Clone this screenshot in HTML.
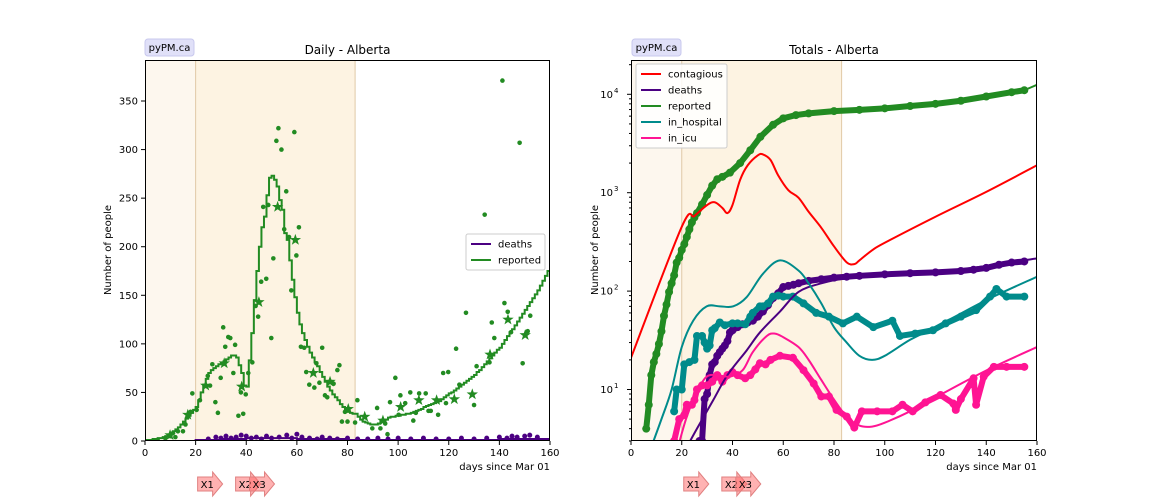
<!DOCTYPE html>
<html><head><meta charset="utf-8">
<style>
html,body{margin:0;padding:0;background:#fff;}
svg{display:block;font-family:"DejaVu Sans","Liberation Sans",sans-serif;}
</style></head>
<body>
<svg id="chart" width="1152" height="504" viewBox="0 0 1152 504" xmlns="http://www.w3.org/2000/svg"></svg>
<script>
// ---------- data ----------
const dailyReportedLine = [1,1,1,2,2,3,3,4,5,6,8,10,12,14,17,20,23,26,29,32,35,42,50,58,64,70,73,75,77,79,80,82,84,86,88,88,86,78,70,57,56,83,111,145,175,200,220,231,253,271,273,269,262,248,238,214,207,186,166,148,132,120,111,104,97,91,86,81,77,71,66,61,56,52,48,45,42,38,35,33,30,29,28,28,25,22,20,19,18,17,17,17,18,20,21,22,24,25,25,26,26,27,27,28,28,29,30,31,32,33,35,36,37,38,39,40,41,43,45,47,49,50,52,54,56,58,60,62,64,66,68,71,73,76,79,82,85,88,91,94,96,100,104,108,112,115,119,123,127,131,135,139,143,147,151,155,160,165,170,175,180];
const dailyDotDays = [5,8,10,11,12,13,15,16,17,18,18.7,20.4,21.7,23.7,24.8,25.7,26.6,27.8,28.8,29.9,30.9,31.7,32.9,33.7,34.9,35.6,36.9,37.9,38.8,39.8,40.8,42.4,43.7,44.7,45.9,46.7,47.9,48.7,49.9,50.7,51.9,52.7,53.9,55,55.8,56.9,57.8,59,59.8,60.8,61.6,62.9,63.7,64.9,66.9,67.7,68.9,70,71.1,72,74.5,76,76.8,77.8,79,80,83,83.9,89.8,91.7,93,94.9,95.8,96.8,98.9,100.2,100.9,102.8,104.8,106,107,108.3,110.9,112,112.9,115.8,117.8,118.9,119.8,122.9,124.2,126.8,130,131,134.2,136.1,137,138,141.2,142,143.3,144.6,148,149.2,151.2,152.2];
const dailyDotVals = [1,3,5,8,4,10,10,17,25,30,49,32,42,57,67,57,79,40,29,65,117,97,107,106,70,99,26,50,28,48,70,81,139,128,164,241,167,243,106,188,309,322,300,218,257,210,155,318,191,220,97,96,71,58,55,80,60,96,47,45,59,73,78,20,30,20,19,42,13,34,13,18,7,40,65,27,47,39,50,21,29,49,49,31,31,27,70,39,71,95,58,132,37,77,233,81,122,106,371,142,133,112,307,80,113,129];
const dailyStarDays = [9.9,16.9,24,31.3,38.2,45,52.4,59.4,66.5,73.1,80.3,86.8,94,101,108.2,115.2,122.2,129.3,136.3,143.4,150.2];
const dailyStarVals = [6,27,57,80,56,143,241,207,70,61,33,25,21,35,42,42,43,48,89,125,109];
const dailyDeathLine = [0,0,1,2,3,3,2,2,1,1,1,1,1,1,2,2,3];
const deathDotDays = [25,28,30,32,34,36,38,40,42,44,46,48,50,53,56,58,60,62,65,68,70,73,76,80,84,88,92,96,100,105,110,115,120,125,130,135,140,143,145,147,150,152,155];
const deathDotVals = [2,4,3,5,3,4,6,5,3,4,2,5,3,4,6,3,7,4,3,2,4,3,2,3,2,2,3,2,3,2,3,2,2,3,2,3,4,3,5,4,5,6,4];

const lineDays = [0,20,25,30,33,36,38,40,43,46,50,52,55,58,62,66,70,75,80,85,88,90,95,100,120,140,160];
const contagiousVals = [21,450,580,750,800,700,620,750,1350,1900,2400,2450,2150,1500,1060,890,640,440,285,196,188,205,260,310,570,1020,1900];
const deathLineDays = [20,22,26,32.4,38,45.6,50.8,58.7,66,75,85,100,120,140,160];
const deathLineVals = [2.1,2.6,4,7.8,14,25,38,62,98,120,135,145,155,180,215];
const hospLineDays = [8,12,16,20,24.5,29.8,35,40.3,45.6,52,58.7,66,70,75,80,85,90,95,100,110,120,140,160];
const hospLineVals = [2.6,5,10,27,50,70,70,70,87,150,205,162,120,75,43,30,22,20,22,32,43,81,140];
const icuLineDays = [17,19,22,26,29.8,34,39,44,48,53.5,56.7,60,66,70,75,80,85,90,95,100,110,120,140,160];
const icuLineVals = [2,2.9,5.3,9.5,13.5,14,13.5,15.7,24,35,37,34,27,20,12.5,7.9,5.3,4.3,4.2,4.6,6,8.3,15.6,27];

const repDays = [6,7,8,9,10,11,12,13,14,15,16,17,18,19,20,21,22,23,24,25,26,28,30,32,34,36,39,43,47,51,56,60,65,70,80,90,100,110,120,130,140,150,155];
const repVals = [4,7,14,19,23,29,39,56,73,98,120,145,195,218,262,300,355,425,500,560,620,760,950,1180,1370,1450,1600,2000,2700,3700,4900,5700,6150,6400,6750,6950,7200,7600,8000,8600,9500,10500,11000];
const deathDays = [27,28,29,30,31,32,33,34,35,36,37,38,39,40,42,44,46,48,50,52,54,56,58,60,62,64,66,70,75,80,85,90,100,110,120,130,135,140,145,150,155];
const deathVals = [3,3,8,9,14,18,19,22,24,26,28,31,38,40,43,46,48,50,55,62,72,85,95,110,113,116,120,127,132,137,140,143,148,152,155,160,165,172,185,195,200];
const hospDays = [17,18,20,21,23,25,26,28,29,30,31,32,33,35,37,40,42,45,47,48,50.8,52,54,56,58,60,63.8,68,73,78,83.5,89,95.5,103,106,112,119,124,130,136,141.5,144,148,155];
const hospVals = [6,10,10,18,19,20,35,35,30,26,28,40,42,48,45,47,47,46,55,60,70,70,75,88,90,88,88,75,60,55,47,55,43,50,35,37,40,47,55,64,88,105,88,88];
const icuDays = [17,19,21,22,24,25,26,28,30,32,34,36,38,40,42,45,47,49,50.8,53,55,58.7,63.8,68,72,75,78,81,85,88,91,97,103,107,111,116,122,127,128,130,135,136,139,143,148,155];
const icuVals = [3,5,5.5,7,7,7.8,10,11,11,12,14,12,14,15,14,13,14,16,18.5,18,20,22,21,15.7,11.5,8.5,8.5,6.2,5.3,4.1,6,6,6,7,6,7.4,8.8,7.2,6.2,8,13,7,13.5,17,17,17];

const leftTicks = [0,50,100,150,200,250,300,350];
const xTicks = [0,20,40,60,80,100,120,140,160];
const logTicks = [10,100,1000,10000];
const logTickExp = ["1","2","3","4"];

// ---------- helpers ----------
const NS="http://www.w3.org/2000/svg";
const svg=document.getElementById('chart');
function mk(tag,attrs,parent){const e=document.createElementNS(NS,tag);for(const k in attrs)e.setAttribute(k,attrs[k]);(parent||svg).appendChild(e);return e;}

const L={x0:145,x1:550,y0:441,y1:60};
const lx=d=>L.x0+d*(L.x1-L.x0)/160;
const ly=v=>L.y0-v*0.9714;
const R={x0:631,x1:1037,y0:441,y1:60};
const rx=d=>R.x0+d*(R.x1-R.x0)/160;
const ry=v=>94.3+(4-Math.log10(v))*98.4;

function panelBg(A,xf,name){
  const g=mk('g',{});
  
  
  mk('rect',{x:A.x0,y:A.y1,width:A.x1-A.x0,height:A.y0-A.y1,fill:'#fff'},g);
  mk('rect',{x:xf(0),y:A.y1,width:xf(20)-xf(0),height:A.y0-A.y1,fill:'#fdf7ee'},g);
  mk('rect',{x:xf(20),y:A.y1,width:xf(83)-xf(20),height:A.y0-A.y1,fill:'#fdf3e2'},g);
  mk('line',{x1:xf(20),x2:xf(20),y1:A.y1,y2:A.y0,stroke:'#e0c9a6','stroke-width':1},g);
  mk('line',{x1:xf(83),x2:xf(83),y1:A.y1,y2:A.y0,stroke:'#e0c9a6','stroke-width':1},g);
}
panelBg(L,lx,'daily-panel');
panelBg(R,rx,'totals-panel');

const defs=mk('defs',{});
const c1=mk('clipPath',{id:'clipL'},defs);mk('rect',{x:L.x0,y:L.y1,width:L.x1-L.x0,height:L.y0-L.y1},c1);
const c2=mk('clipPath',{id:'clipR'},defs);mk('rect',{x:R.x0,y:R.y1,width:R.x1-R.x0,height:R.y0-R.y1},c2);

// ---------- left chart ----------
const gl=mk('g',{'clip-path':'url(#clipL)'});
let dd='';
dailyDeathLine.forEach((v,i)=>{const x=lx(i*10),y=ly(v);dd+=(i?'L':'M')+x+','+y+' L'+lx(Math.min(160,i*10+10))+','+y+' ';});
const dl=mk('path',{d:dd,fill:'none',stroke:'#4b0082','stroke-width':2},gl);


deathDotDays.forEach((d,i)=>{
  const c=mk('circle',{cx:lx(d),cy:ly(deathDotVals[i]),r:2.5,fill:'#4b0082'},gl);
  
  
});
dailyDotDays.forEach((d,i)=>{
  const c=mk('circle',{cx:lx(d),cy:ly(dailyDotVals[i]),r:2.3,fill:'#228b22'},gl);
  
  
});
let rd='';
dailyReportedLine.forEach((v,i)=>{const y=ly(v);rd+=(i?'L':'M')+lx(i)+','+y+' L'+lx(Math.min(160,i+1))+','+y+' ';});
const rl=mk('path',{d:rd,fill:'none',stroke:'#228b22','stroke-width':2},gl);


function star(cx,cy,r){let p='';for(let k=0;k<10;k++){const a=-Math.PI/2+k*Math.PI/5;const rr=k%2?r*0.4:r;p+=(k?'L':'M')+(cx+rr*Math.cos(a))+','+(cy+rr*Math.sin(a));}return p+'Z';}
dailyStarDays.forEach((d,i)=>{
  const s=mk('path',{d:star(lx(d),ly(dailyStarVals[i]),6),fill:'#228b22'},gl);
  
  
});

// ---------- right chart ----------
const gr=mk('g',{'clip-path':'url(#clipR)'});
function band(days,vals,color,name){
  const pts=days.map((d,i)=>rx(d)+','+ry(vals[i])).join(' ');
  const b=mk('polyline',{points:pts,fill:'none',stroke:color,'stroke-width':6,'stroke-linejoin':'round','stroke-linecap':'round'},gr);
  
  
  days.forEach((d,i)=>{
    const c=mk('circle',{cx:rx(d),cy:ry(vals[i]),r:4,fill:color},gr);
    
    
  });
}
function curvePath(P){
  let d='M'+P[0][0]+','+P[0][1];
  for(let i=0;i<P.length-1;i++){
    const p0=P[Math.max(0,i-1)],p1=P[i],p2=P[i+1],p3=P[Math.min(P.length-1,i+2)];
    const c1x=p1[0]+(p2[0]-p0[0])/6,c1y=p1[1]+(p2[1]-p0[1])/6;
    const c2x=p2[0]-(p3[0]-p1[0])/6,c2y=p2[1]-(p3[1]-p1[1])/6;
    d+=' C'+c1x+','+c1y+' '+c2x+','+c2y+' '+p2[0]+','+p2[1];
  }
  return d;
}
function smooth(days,vals,color,name){
  const P=days.map((d,i)=>[rx(d),ry(vals[i])]);
  const p=mk('path',{d:curvePath(P),fill:'none',stroke:color,'stroke-width':2},gr);
  
  
}
band(repDays,repVals,'#228b22','reported-total');
smooth([155,160],[11000,12500],'#228b22','reported-total-ext');
band(deathDays,deathVals,'#4b0082','deaths-total');
band(hospDays,hospVals,'#008b8b','in-hospital');
band(icuDays,icuVals,'#ff1493','in-icu');
smooth(lineDays,contagiousVals,'#ff0000','contagious');
smooth(deathLineDays,deathLineVals,'#4b0082','deaths-model');
smooth(hospLineDays,hospLineVals,'#008b8b','in-hospital-model');
smooth(icuLineDays,icuLineVals,'#ff1493','in-icu-model');

// ---------- axes ----------
function frame(A,name){
  const f=mk('rect',{x:A.x0+0.5,y:A.y1+0.5,width:A.x1-A.x0-1,height:A.y0-A.y1-1,fill:'none',stroke:'#000','stroke-width':1});
  
  
}
frame(L,'daily');frame(R,'totals');
function xaxis(A,xf,name){
  xTicks.forEach(t=>{
    mk('line',{x1:xf(t),x2:xf(t),y1:A.y0,y2:A.y0+4,stroke:'#000'});
    const tx=mk('text',{x:xf(t),y:A.y0+15,'font-size':10,'text-anchor':'middle'});
    tx.textContent=t;
    
    
  });
  const xl=mk('text',{x:A.x1,y:A.y0+29,'font-size':10,'text-anchor':'end'});
  xl.textContent='days since Mar 01';
  
  
}
xaxis(L,lx,'daily');xaxis(R,rx,'totals');
leftTicks.forEach(t=>{
  mk('line',{x1:L.x0-4,x2:L.x0,y1:ly(t),y2:ly(t),stroke:'#000'});
  const tx=mk('text',{x:L.x0-7,y:ly(t)+3.5,'font-size':10,'text-anchor':'end'});
  tx.textContent=t;
  
  
});
logTicks.forEach((t,i)=>{
  mk('line',{x1:R.x0-4,x2:R.x0,y1:ry(t),y2:ry(t),stroke:'#000'});
  const tx=mk('text',{x:R.x0-18,y:ry(t)+3.5,'font-size':10,'text-anchor':'end'});
  tx.textContent='10';
  
  
  const ex=mk('text',{x:R.x0-17,y:ry(t)-1.5,'font-size':7,'text-anchor':'start'});
  ex.textContent=logTickExp[i];
  
  
});
for(let dec=0;dec<=4;dec++){for(let m=2;m<=9;m++){const v=m*Math.pow(10,dec);const y=ry(v);if(y>R.y1&&y<R.y0)mk('line',{x1:R.x0-2,x2:R.x0,y1:y,y2:y,stroke:'#000'});}}
function ylab(x,name){
  const t=mk('text',{x:x,y:250,'font-size':10,'text-anchor':'middle',transform:'rotate(-90 '+x+' 250)'});
  t.textContent='Number of people';
  
  
}
ylab(111,'daily');ylab(598,'totals');
function title(x,txt,name){
  const t=mk('text',{x:x,y:54,'font-size':12,'text-anchor':'middle'});
  t.textContent=txt;
  
  
}
title(347.5,'Daily - Alberta','daily');title(834,'Totals - Alberta','totals');
function badge(x,name){
  const g=mk('g',{});
  
  
  mk('rect',{x:x,y:39,width:49,height:17,rx:3,fill:'#e0e0f8',stroke:'#c8c8ee'},g);
  const t=mk('text',{x:x+24.5,y:51,'font-size':10,'text-anchor':'middle'},g);
  t.textContent='pyPM.ca';
}
badge(145,'daily');badge(632,'totals');

// ---------- legends ----------
function legend(x,y,w,items,name){
  const g=mk('g',{});
  
  
  mk('rect',{x:x,y:y,width:w,height:items.length*16+4,rx:2,fill:'#fff','fill-opacity':0.85,stroke:'#ccc'},g);
  items.forEach((it,i)=>{
    const cy=y+10+i*16;
    const e=mk('g',{},g);
    
    
    mk('line',{x1:x+5,x2:x+25,y1:cy,y2:cy,stroke:it[1],'stroke-width':2},e);
    const t=mk('text',{x:x+32,y:cy+3.5,'font-size':10},e);
    t.textContent=it[0];
  });
}
legend(466,234,79,[['deaths','#4b0082'],['reported','#228b22']],'daily');
legend(636,64,91,[['contagious','#ff0000'],['deaths','#4b0082'],['reported','#228b22'],['in_hospital','#008b8b'],['in_icu','#ff1493']],'totals');

// ---------- intervention arrows ----------
const arrowDays=[20,35,40.5];
const arrowLabels=['X1','X2','X3'];
function arrows(xf,name){
  arrowDays.forEach((d,i)=>{
    const x=xf(d)+2;
    const g=mk('g',{});
    
    
    mk('path',{d:`M${x},477 L${x+15},477 L${x+15},472 L${x+25},484 L${x+15},496 L${x+15},491 L${x},491 Z`,fill:'#ff6666','fill-opacity':0.5,stroke:'#e08080','stroke-width':1},g);
    const t=mk('text',{x:x+3,y:488,'font-size':10},g);
    t.textContent=arrowLabels[i];
  });
}
arrows(lx,'daily');arrows(rx,'totals');
</script>
</body></html>
